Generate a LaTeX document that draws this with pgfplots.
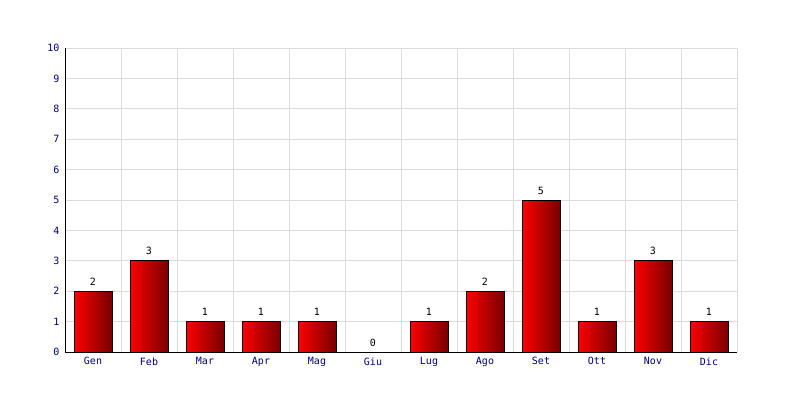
\documentclass[border=0pt]{standalone}
\usepackage{fontspec}
\setmainfont{DejaVu Sans Mono}
\usepackage{pgfplots}
\pgfplotsset{compat=1.18}
\definecolor{navy}{HTML}{000080}
\definecolor{gridc}{HTML}{DCDCDC}
\definecolor{barL}{HTML}{FF0000}
\definecolor{barR}{HTML}{780000}
\begin{document}
\begin{tikzpicture}[x=1pt,y=1pt]
\path[use as bounding box] (0,0) rectangle (800,400);
\begin{axis}[
  at={(65pt,48pt)}, anchor=south west,
  scale only axis, width=672pt, height=304pt,
  xmin=-0.5, xmax=11.5, ymin=0, ymax=10,
  ybar, bar width=38pt, bar shift=0pt,
  xtick={0,...,11},
  xticklabels={Gen,Feb,Mar,Apr,Mag,Giu,Lug,Ago,Set,Ott,Nov,Dic},
  minor xtick={-0.5,0.5,...,11.5},
  ytick={0,...,10},
  xminorgrids, ymajorgrids,
  grid style={gridc, line width=1pt},
  minor grid style={gridc, line width=1pt},
  major tick length=0pt, minor tick length=0pt,
  axis x line*=bottom, axis y line*=left,
  axis line style={-, black, line width=1pt},
  /pgf/number format/assume math mode=true,
  tick label style={font=\fontsize{10}{12}\selectfont, text=navy},
  xticklabel style={yshift=-2pt},
  yticklabel style={xshift=-2pt},
  nodes near coords,
  every node near coord/.append style={font=\fontsize{10}{12}\selectfont, text=black, yshift=2pt},
  mybar/.style={draw=black, line width=1pt, left color=barL, right color=barR},
]
\addplot[mybar] coordinates {(0,2)};
\addplot[mybar] coordinates {(1,3)};
\addplot[mybar] coordinates {(2,1)};
\addplot[mybar] coordinates {(3,1)};
\addplot[mybar] coordinates {(4,1)};
\addplot[mybar] coordinates {(5,0)};
\addplot[mybar] coordinates {(6,1)};
\addplot[mybar] coordinates {(7,2)};
\addplot[mybar] coordinates {(8,5)};
\addplot[mybar] coordinates {(9,1)};
\addplot[mybar] coordinates {(10,3)};
\addplot[mybar] coordinates {(11,1)};
\end{axis}
\end{tikzpicture}
\end{document}
